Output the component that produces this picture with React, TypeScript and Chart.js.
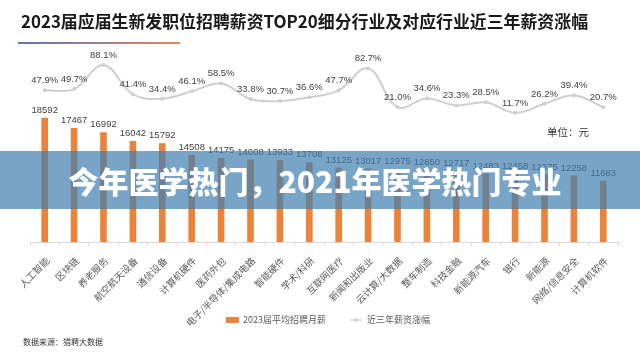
import React, { useEffect, useRef } from 'react';
import { Chart, registerables } from 'chart.js';

Chart.register(...registerables);

const categories = [
  '人工智能', '区块链', '养老服务', '航空航天设备', '通信设备',
  '计算机硬件', '医药外包', '电子/半导体/集成电路', '智能硬件', '学术/科研',
  '互联网医疗', '新闻和出版业', '云计算/大数据', '整车制造', '科技金融',
  '新能源汽车', '银行', '新能源', '网络/信息安全', '计算机软件',
];
const salaries = [
  18592, 17467, 16992, 16042, 15792, 14508, 14175, 14008, 13933, 13708,
  13125, 13017, 12975, 12850, 12717, 12483, 12458, 12375, 12258, 11683,
];
const growth = [
  47.9, 49.7, 88.1, 41.4, 34.4, 46.1, 58.5, 33.8, 30.7, 36.6,
  47.7, 82.7, 21.0, 34.6, 23.3, 28.5, 11.7, 26.2, 39.4, 20.7,
];
const seriesNames = ['2023届平均招聘月薪', '近三年薪资涨幅'];

const BAR_COLOR = '#E9843A';
const LINE_COLOR = '#CFCFCF';
const NUM_FONT = '"Liberation Sans", Arial, sans-serif';
const CJK_FONT = '"Noto Sans CJK SC", "Noto Sans", sans-serif';

const valueLabels = {
  id: 'valueLabels',
  afterDatasetsDraw(chart: any) {
    const ctx = chart.ctx;
    ctx.save();
    ctx.font = `9.5px ${NUM_FONT}`;
    ctx.fillStyle = '#404040';
    ctx.textAlign = 'center';
    ctx.textBaseline = 'bottom';
    const bars = chart.getDatasetMeta(0).data;
    bars.forEach((el: any, i: number) => {
      ctx.fillText(String(salaries[i]), el.x, el.y - 3);
    });
    const pts = chart.getDatasetMeta(1).data;
    pts.forEach((el: any, i: number) => {
      ctx.fillText(growth[i].toFixed(1) + '%', el.x, el.y - 5);
    });
    ctx.restore();
  },
};

// custom bottom legend, drawn from the chart's own datasets
const bottomLegend = {
  id: 'bottomLegend',
  afterDraw(chart: any) {
    const ctx = chart.ctx;
    const ds = chart.data.datasets;
    const cy = 320;
    ctx.save();
    ctx.font = `9px ${CJK_FONT}`;
    ctx.textBaseline = 'middle';
    ctx.textAlign = 'left';
    let x = 226;
    ctx.fillStyle = ds[0].backgroundColor;
    ctx.fillRect(x, cy - 3, 13, 6);
    ctx.fillStyle = '#595959';
    ctx.fillText(ds[0].label, x + 17, cy);
    x += 17 + ctx.measureText(ds[0].label).width + 24;
    ctx.strokeStyle = ds[1].borderColor;
    ctx.lineWidth = 1.2;
    ctx.beginPath();
    ctx.moveTo(x, cy);
    ctx.lineTo(x + 12, cy);
    ctx.stroke();
    ctx.fillStyle = ds[1].borderColor;
    ctx.beginPath();
    ctx.arc(x + 6, cy, 1.8, 0, Math.PI * 2);
    ctx.fill();
    ctx.fillStyle = '#595959';
    ctx.fillText(ds[1].label, x + 17, cy);
    ctx.restore();
  },
};

export default function App() {
  const ref = useRef<HTMLCanvasElement>(null);

  useEffect(() => {
    if (!ref.current) return;
    const chart = new Chart(ref.current, {
      type: 'bar',
      data: {
        labels: categories,
        datasets: [
          {
            type: 'bar',
            label: seriesNames[0],
            data: salaries,
            backgroundColor: BAR_COLOR,
            borderWidth: 0,
            barThickness: 6,
            yAxisID: 'y',
          },
          {
            type: 'line',
            label: seriesNames[1],
            data: growth,
            borderColor: LINE_COLOR,
            backgroundColor: LINE_COLOR,
            borderWidth: 2,
            pointRadius: 2,
            pointBackgroundColor: LINE_COLOR,
            pointBorderWidth: 0,
            tension: 0.4,
            yAxisID: 'y1',
          } as any,
        ],
      },
      options: {
        responsive: false,
        animation: false,
        layout: { padding: { left: 30, right: 22, top: 59.5, bottom: 32 } },
        scales: {
          x: {
            offset: true,
            grid: {
              display: true,
              drawOnChartArea: false,
              color: '#D9D9D9',
              tickLength: 4,
              offset: true,
            },
            border: { color: '#D9D9D9' },
            ticks: {
              autoSkip: false,
              maxRotation: 45,
              minRotation: 45,
              padding: 9,
              labelOffset: 3,
              color: '#595959',
              font: { size: 9.5, family: CJK_FONT },
            },
            afterFit: (scale: any) => {
              scale.height = 86;
            },
          },
          y: { display: false, min: 5000, max: 25000 },
          y1: { display: false, min: -195, max: 97, position: 'right' },
        },
        plugins: {
          tooltip: { enabled: false },
          legend: { display: false },
        },
      },
      plugins: [valueLabels, bottomLegend],
    });
    return () => chart.destroy();
  }, []);

  return (
    <div
      style={{
        position: 'fixed',
        left: 0,
        top: 0,
        width: 640,
        height: 360,
        background: '#fff',
        overflow: 'hidden',
      }}
    >
      <canvas ref={ref} width={640} height={360} style={{ display: 'block', width: 640, height: 360 }} />
      <div
        style={{
          position: 'absolute',
          left: 21,
          top: 9,
          fontFamily: CJK_FONT,
          fontWeight: 700,
          fontSize: 16.9,
          lineHeight: '24px',
          color: '#1a1a1a',
          whiteSpace: 'nowrap',
        }}
      >
        2023届应届生新发职位招聘薪资TOP20细分行业及对应行业近三年薪资涨幅
      </div>
      <div
        style={{
          position: 'absolute',
          left: 18,
          top: 42,
          width: 162,
          height: 1.5,
          background: 'linear-gradient(to right, #5878B8, #E8845A)',
        }}
      />
      <div
        style={{
          position: 'absolute',
          left: 547,
          top: 124,
          fontFamily: CJK_FONT,
          fontSize: 10.5,
          lineHeight: '16px',
          color: '#333',
          whiteSpace: 'nowrap',
        }}
      >
        单位：元
      </div>
      <div
        style={{
          position: 'absolute',
          left: 23,
          top: 336,
          fontFamily: CJK_FONT,
          fontSize: 8,
          lineHeight: '12px',
          color: '#333',
          whiteSpace: 'nowrap',
        }}
      >
        数据来源：猎聘大数据
      </div>
      <div
        style={{
          position: 'absolute',
          left: 0,
          top: 151,
          width: 640,
          height: 58,
          background: 'rgba(62,126,175,0.7)',
        }}
      />
      <div
        style={{
          position: 'absolute',
          left: 0,
          top: 151,
          width: 630,
          height: 58,
          display: 'flex',
          alignItems: 'center',
          justifyContent: 'center',
          fontFamily: CJK_FONT,
          fontWeight: 900,
          fontSize: 30,
          color: '#fff',
          whiteSpace: 'nowrap',
        }}
      >
        今年医学热门，2021年医学热门专业
      </div>
    </div>
  );
}
